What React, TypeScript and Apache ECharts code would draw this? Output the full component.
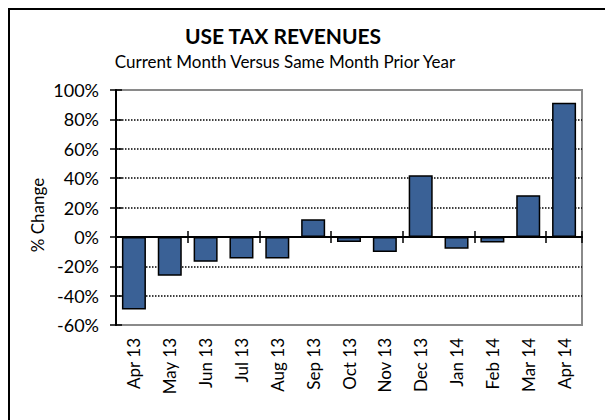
import React, { useEffect, useRef } from "react";
import * as echarts from "echarts";

const categories = ["Apr 13", "May 13", "Jun 13", "Jul 13", "Aug 13", "Sep 13", "Oct 13", "Nov 13", "Dec 13", "Jan 14", "Feb 14", "Mar 14", "Apr 14"];
const changes = [-49.5, -26.5, -17, -14.7, -14.7, 12, -3.5, -10.3, 42, -8, -3.8, 28.4, 91.4];
const yMin = -60;
const yMax = 100;
const yStep = 20;

const FONT = "Lato";

export default function App() {
  const ref = useRef<HTMLDivElement>(null);
  useEffect(() => {
    if (!ref.current) return;
    const chart = echarts.init(ref.current, undefined, { renderer: "svg" });
    const tickStyle = { color: "#000", width: 1.5 };
    chart.setOption({
      animation: false,
      backgroundColor: "#fff",
      title: [
        {
          text: "USE TAX REVENUES",
          left: 270,
          top: 12,
          textAlign: "center",
          textStyle: { fontFamily: FONT, fontSize: 21, fontWeight: "bold", color: "#000" },
        },
        {
          text: "Current Month Versus Same Month Prior Year",
          left: 272,
          top: 40,
          textAlign: "center",
          textStyle: { fontFamily: FONT, fontSize: 17, fontWeight: "normal", color: "#000" },
        },
      ],
      graphic: [
        {
          type: "rect",
          shape: { x: 1, y: 1, width: 800, height: 800 },
          style: { fill: "none", stroke: "#000", lineWidth: 2 },
          silent: true,
        },
        {
          type: "text",
          x: 29,
          y: 207,
          rotation: Math.PI / 2,
          style: {
            text: "% Change",
            fontFamily: FONT,
            fontSize: 17,
            fill: "#000",
            align: "center",
            verticalAlign: "middle",
          },
        },
      ],
      grid: {
        left: 108,
        right: 31,
        top: 82,
        bottom: 95,
        show: true,
        borderColor: "#8a8a8a",
        borderWidth: 2,
        containLabel: false,
      },
      xAxis: [
        {
          type: "category",
          data: categories,
          position: "bottom",
          axisLine: { show: false, onZero: false },
          axisTick: { show: false },
          axisLabel: {
            rotate: 90,
            margin: 13,
            fontFamily: FONT,
            fontSize: 17,
            color: "#000",
          },
          splitLine: { show: false },
        },
        {
          type: "category",
          data: categories,
          position: "bottom",
          axisLine: { show: true, onZero: true, onZeroAxisIndex: 0, lineStyle: { color: "#000", width: 2 } },
          axisTick: { show: true, inside: false, length: 6, lineStyle: tickStyle },
          axisLabel: { show: false },
          splitLine: { show: false },
        },
        {
          type: "category",
          data: categories,
          position: "bottom",
          axisLine: { show: false, onZero: true, onZeroAxisIndex: 0 },
          axisTick: { show: true, inside: true, length: 6, lineStyle: tickStyle },
          axisLabel: { show: false },
          splitLine: { show: false },
        },
      ],
      yAxis: [
        {
          type: "value",
          min: yMin,
          max: yMax,
          interval: yStep,
          position: "left",
          axisLine: { show: true, onZero: false, lineStyle: { color: "#000", width: 2 } },
          axisTick: { show: true, inside: false, length: 6, lineStyle: tickStyle },
          axisLabel: {
            formatter: "{value}%",
            margin: 17,
            fontFamily: FONT,
            fontSize: 18,
            color: "#000",
          },
          splitLine: {
            show: true,
            lineStyle: {
              type: "dotted",
              color: ["transparent", "#000", "#000", "#000", "#000", "#000", "#000", "#000", "transparent"],
              width: 1.5,
            },
          },
        },
        {
          type: "value",
          min: yMin,
          max: yMax,
          interval: yStep,
          position: "left",
          axisLine: { show: false, onZero: false },
          axisTick: { show: true, inside: true, length: 6, lineStyle: tickStyle },
          axisLabel: { show: false },
          splitLine: { show: false },
        },
      ],
      series: [
        {
          type: "bar",
          data: changes,
          xAxisIndex: 0,
          yAxisIndex: 0,
          barCategoryGap: "33%",
          itemStyle: { color: "#3a6196", borderColor: "#000", borderWidth: 1.5 },
        },
      ],
    });
    return () => chart.dispose();
  }, []);
  return <div ref={ref} style={{ width: 605, height: 412 }} />;
}
